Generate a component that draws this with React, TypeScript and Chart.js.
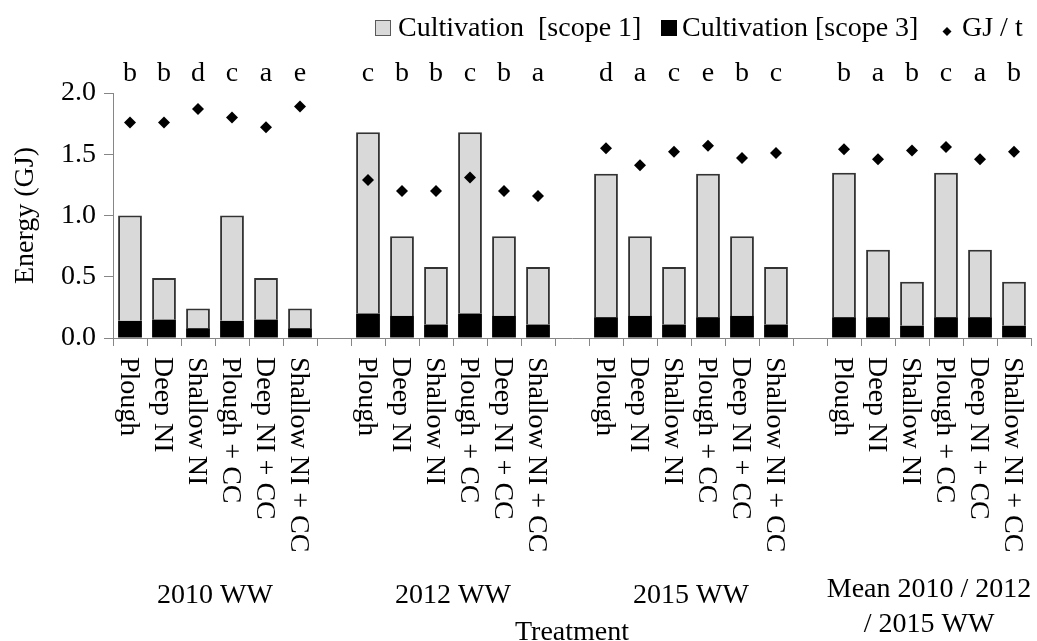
import React, { useEffect, useRef } from 'react';
import { Chart, registerables } from 'chart.js';

Chart.register(...registerables);

const treatments = ['Plough', 'Deep NI', 'Shallow NI', 'Plough + CC', 'Deep NI + CC', 'Shallow NI + CC'];
const groupLabels = [['2010 WW'], ['2012 WW'], ['2015 WW'], ['Mean 2010 / 2012', '/ 2015 WW']];

const scope1_2010 = [0.86, 0.34, 0.16, 0.86, 0.34, 0.16];
const scope3_2010 = [0.14, 0.15, 0.08, 0.14, 0.15, 0.08];
const gjt_2010 = [1.76, 1.76, 1.87, 1.8, 1.72, 1.89];
const letters_2010 = ['b', 'b', 'd', 'c', 'a', 'e'];

const scope1_2012 = [1.48, 0.65, 0.47, 1.48, 0.65, 0.47];
const scope3_2012 = [0.2, 0.18, 0.11, 0.2, 0.18, 0.11];
const gjt_2012 = [1.29, 1.2, 1.2, 1.31, 1.2, 1.16];
const letters_2012 = ['c', 'b', 'b', 'c', 'b', 'a'];

const scope1_2015 = [1.17, 0.65, 0.47, 1.17, 0.65, 0.47];
const scope3_2015 = [0.17, 0.18, 0.11, 0.17, 0.18, 0.11];
const gjt_2015 = [1.55, 1.41, 1.52, 1.57, 1.47, 1.51];
const letters_2015 = ['d', 'a', 'c', 'e', 'b', 'c'];

const scope1_mean = [1.18, 0.55, 0.36, 1.18, 0.55, 0.36];
const scope3_mean = [0.17, 0.17, 0.1, 0.17, 0.17, 0.1];
const gjt_mean = [1.54, 1.46, 1.53, 1.56, 1.46, 1.52];
const letters_mean = ['b', 'a', 'b', 'c', 'a', 'b'];

const yTicks = [0, 0.5, 1.0, 1.5, 2.0];
const yTitle = 'Energy (GJ)';
const xTitle = 'Treatment';
const legendLabels = ['Cultivation  [scope 1]', 'Cultivation [scope 3]', 'GJ / t'];

const FONT = '"Liberation Serif", "Times New Roman", serif';
const GRAY = '#868686';

function flatten<T>(groups: T[][], gap: T): T[] {
  const out: T[] = [];
  groups.forEach((g, i) => {
    out.push(...g);
    if (i < groups.length - 1) out.push(gap);
  });
  return out;
}

const categories = flatten([treatments, treatments, treatments, treatments], '');
const scope1 = flatten([scope1_2010, scope1_2012, scope1_2015, scope1_mean], null as any);
const scope3 = flatten([scope3_2010, scope3_2012, scope3_2015, scope3_mean], null as any);
const gjt = flatten([gjt_2010, gjt_2012, gjt_2015, gjt_mean], null as any);
const letters = flatten([letters_2010, letters_2012, letters_2015, letters_mean], '');

const overlay = {
  id: 'overlay',
  afterDraw(chart: any) {
    const ctx = chart.ctx as CanvasRenderingContext2D;
    const xs = chart.scales.x;
    const area = chart.chartArea;
    ctx.save();
    ctx.fillStyle = '#000';
    ctx.font = `28px ${FONT}`;

    // significance letters
    ctx.textAlign = 'center';
    ctx.textBaseline = 'alphabetic';
    letters.forEach((l, i) => {
      if (!l) return;
      ctx.fillText(l, xs.getPixelForValue(i), 81);
    });

    // rotated category labels
    categories.forEach((c, i) => {
      if (!c) return;
      const x = xs.getPixelForValue(i);
      ctx.save();
      ctx.translate(x - 9, 357);
      ctx.rotate(Math.PI / 2);
      ctx.textAlign = 'left';
      ctx.textBaseline = 'alphabetic';
      ctx.fillText(c, 0, 0);
      ctx.restore();
    });

    // group labels
    ctx.textAlign = 'center';
    groupLabels.forEach((lines, gi) => {
      const start = gi * 7;
      const cx = (xs.getPixelForValue(start) + xs.getPixelForValue(start + 5)) / 2;
      if (lines.length === 1) {
        ctx.fillText(lines[0], cx, 603);
      } else {
        ctx.fillText(lines[0], cx, 597);
        ctx.fillText(lines[1], cx, 632);
      }
    });

    // x title
    ctx.fillText(xTitle, (area.left + area.right) / 2, 640);

    // y title
    ctx.save();
    ctx.translate(33, (area.top + area.bottom) / 2);
    ctx.rotate(-Math.PI / 2);
    ctx.textAlign = 'center';
    ctx.fillText(yTitle, 0, 0);
    ctx.restore();

    // legend
    ctx.textAlign = 'left';
    ctx.fillStyle = '#d9d9d9';
    ctx.fillRect(375, 20, 15, 15);
    ctx.strokeStyle = '#595959';
    ctx.lineWidth = 1;
    ctx.strokeRect(375.5, 20.5, 15, 15);
    ctx.fillStyle = '#000';
    ctx.fillText(legendLabels[0], 398, 36);
    ctx.fillRect(661, 20, 16, 16);
    ctx.fillText(legendLabels[1], 682, 36);
    ctx.beginPath();
    ctx.moveTo(947, 27);
    ctx.lineTo(951.5, 31.5);
    ctx.lineTo(947, 36);
    ctx.lineTo(942.5, 31.5);
    ctx.closePath();
    ctx.fill();
    ctx.fillText(legendLabels[2], 962, 36);
    ctx.restore();
  },
};

export default function App() {
  const ref = useRef<HTMLCanvasElement | null>(null);
  useEffect(() => {
    document.body.style.margin = '0';
    const canvas = ref.current!;
    const chart = new Chart(canvas, {
      type: 'bar',
      data: {
        labels: categories,
        datasets: [
          {
            type: 'bar',
            label: 'Cultivation [scope 3]',
            data: scope3,
            backgroundColor: '#000000',
            borderWidth: 0,
            stack: 's',
            order: 1,
            barPercentage: 0.7,
            categoryPercentage: 1,
          },
          {
            type: 'bar',
            label: 'Cultivation [scope 1]',
            data: scope1,
            backgroundColor: '#d9d9d9',
            borderColor: '#333333',
            borderWidth: 2,
            stack: 's',
            order: 2,
            barPercentage: 0.7,
            categoryPercentage: 1,
          },
          {
            type: 'line',
            label: 'GJ / t',
            data: gjt,
            showLine: false,
            pointStyle: 'rectRot',
            pointRadius: 6,
            pointBackgroundColor: '#000',
            pointBorderColor: '#000',
            pointBorderWidth: 0,
            stack: 'p',
            order: 0,
          } as any,
        ],
      },
      options: {
        responsive: false,
        animation: false,
        layout: { padding: { top: 93, right: 5, left: 0, bottom: 0 } },
        plugins: { legend: { display: false }, tooltip: { enabled: false } },
        scales: {
          x: {
            stacked: true,
            ticks: { display: false },
            grid: { offset: true, drawOnChartArea: false, drawTicks: true, tickLength: 8, color: GRAY },
            border: { color: GRAY },
            afterFit: (s: any) => {
              s.height = 303;
            },
          },
          y: {
            stacked: true,
            min: 0,
            max: 2,
            afterBuildTicks: (s: any) => {
              s.ticks = yTicks.map((v) => ({ value: v }));
            },
            ticks: {
              font: { family: FONT, size: 28 },
              color: '#000',
              padding: 8,
              callback: (v: any) => Number(v).toFixed(1),
            },
            grid: { drawOnChartArea: false, drawTicks: true, tickLength: 9, color: GRAY },
            border: { color: GRAY },
            afterFit: (s: any) => {
              s.width = 113;
            },
          },
        },
      },
      plugins: [overlay],
    });
    return () => chart.destroy();
  }, []);
  return (
    <div style={{ width: 1037, height: 641 }}>
      <canvas ref={ref} width={1037} height={641} style={{ display: 'block' }} />
    </div>
  );
}
